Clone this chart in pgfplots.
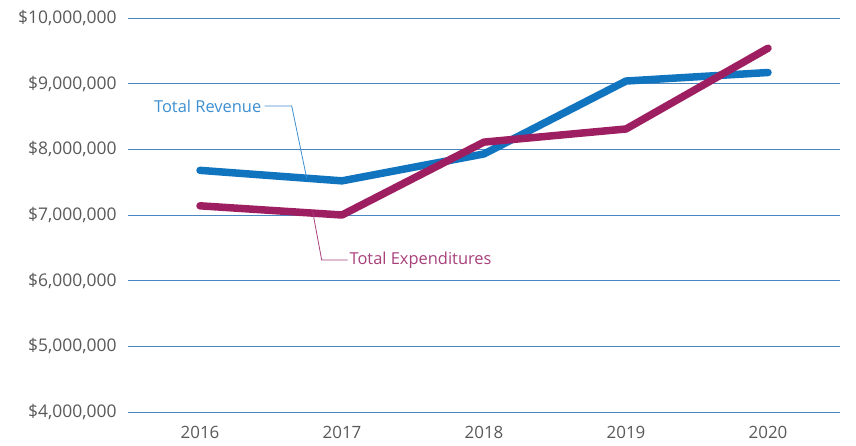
\documentclass[border=0pt]{standalone}
\usepackage{fontspec}
\setmainfont{Open Sans}
\usepackage{pgfplots}
\pgfplotsset{compat=1.18}
\definecolor{rev}{RGB}{17,116,190}
\definecolor{exp}{RGB}{158,31,97}
\definecolor{gridc}{RGB}{74,134,192}
\definecolor{revtxt}{RGB}{61,143,209}
\definecolor{exptxt}{RGB}{168,64,122}
\definecolor{lbl}{RGB}{89,89,89}
\begin{document}
\begin{tikzpicture}
\begin{axis}[
  scale only axis,
  width=712bp, height=394bp,
  xmin=-0.507, xmax=4.507,
  ymin=4, ymax=10,
  xtick={0,1,2,3,4},
  xticklabels={2016,2017,2018,2019,2020},
  ytick={4,5,6,7,8,9,10},
  yticklabels={{\$4,000,000},{\$5,000,000},{\$6,000,000},{\$7,000,000},{\$8,000,000},{\$9,000,000},{\$10,000,000}},
  axis line style={draw=none},
  major tick style={draw=none},
  ymajorgrids,
  grid style={gridc, line width=1bp},
  tick label style={text=lbl},
  yticklabel style={font=\fontsize{17.5}{19}\selectfont, xshift=-8bp},
  xticklabel style={font=\fontsize{17}{19}\selectfont, yshift=-11bp},
  clip=false,
]
\addplot[rev, line width=7.5bp, line cap=round, line join=round] coordinates {
  (0,7.68) (1,7.52) (2,7.93) (3,9.04) (4,9.17)
};
\addplot[exp, line width=7.5bp, line cap=round, line join=round] coordinates {
  (0,7.14) (1,7.00) (2,8.11) (3,8.31) (4,9.54)
};
\draw[revtxt, line width=0.8bp] (axis cs:0.456,8.66) -- (axis cs:0.646,8.66) -- (axis cs:0.751,7.564);
\node[anchor=east, text=revtxt, font=\fontsize{16.5}{18}\selectfont, inner sep=1bp] at (axis cs:0.44,8.66) {Total Revenue};
\draw[exptxt, line width=0.8bp] (axis cs:1.039,6.315) -- (axis cs:0.857,6.315) -- (axis cs:0.794,7.046);
\node[anchor=west, text=exptxt, font=\fontsize{16.5}{18}\selectfont, inner sep=1bp] at (axis cs:1.045,6.315) {Total Expenditures};
\end{axis}
\path[use as bounding box] (-128bp,-34bp) rectangle (728bp,412bp);
\end{tikzpicture}
\end{document}
